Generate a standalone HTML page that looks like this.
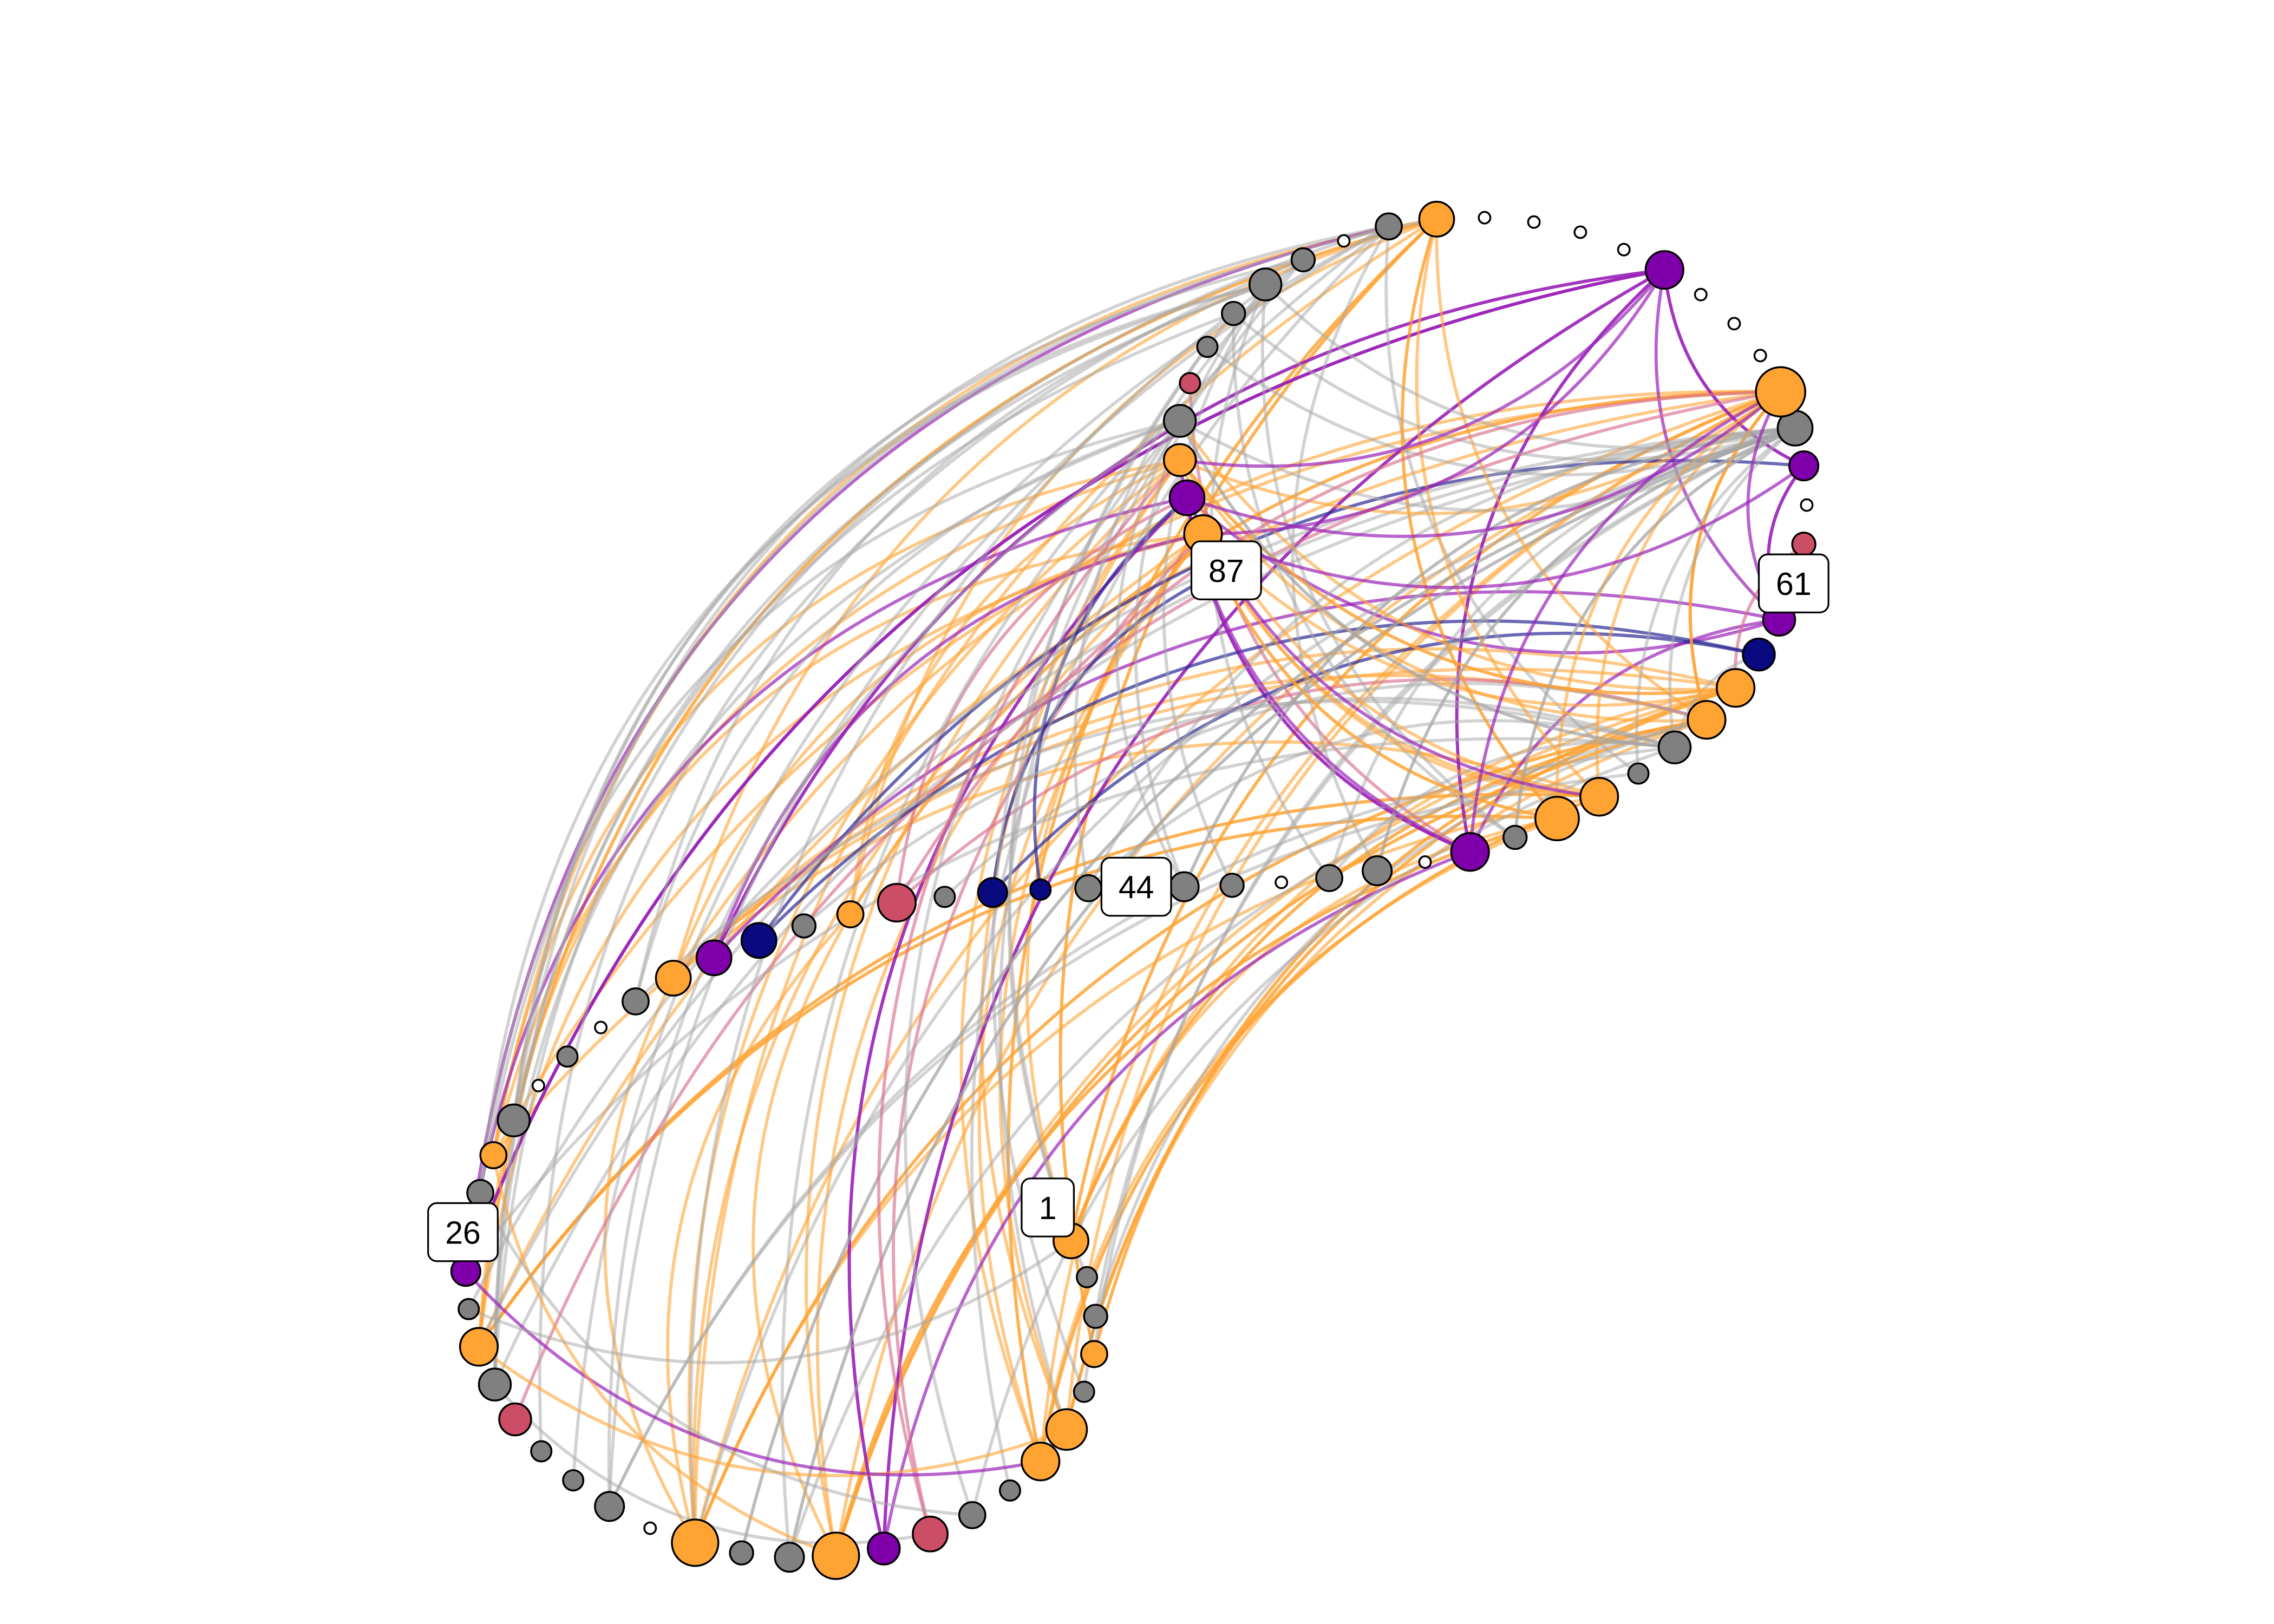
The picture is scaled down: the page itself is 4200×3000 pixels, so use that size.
<!DOCTYPE html>
<html><head><meta charset="utf-8"><style>
html,body{margin:0;padding:0;background:#fff;}
svg{display:block;}
</style></head><body>
<svg id="chart" width="4200" height="3000" viewBox="0 0 1567 1119" preserveAspectRatio="none" xmlns="http://www.w3.org/2000/svg">
<rect width="1567" height="1119" fill="#fff"/>
<g id="edges"></g>
<g id="nodes"></g>
<g id="labels"></g>
</svg>
<script>
const nodeX=[738,749,755,754,747,735,717,696,670,641,609,576,544,511,479,448,420,395,373,355,341,330,323,321,331,340,354,371,391,414,438,464,492,523,554,586,618,651,684,717,750,783,816,849,883,916,949,982,1013,1044,1073,1102,1129,1154,1176,1196,1212,1226,1236,1243,1245,1243,1237,1227,1213,1195,1172,1147,1119,1089,1057,1023,990,957,926,898,872,850,832,820,813,813,818,829,845];
const nodeY=[855,880,907,933,959,985,1007,1027,1044,1057,1067,1072,1073,1070,1063,1053,1038,1020,1000,978,954,928,902,876,822,796,772,748,728,708,690,674,660,648,638,630,622,618,615,613,612,611,611,610,608,605,600,594,587,577,564,549,533,515,496,474,451,427,402,375,348,321,295,270,245,223,203,186,172,160,153,150,151,156,166,179,196,216,239,264,290,317,343,368,392];
const nodeR=[12,7,8,9,7,14,13,7,9,12,11,16,10,8,16,4,10,7,7,11,11,13,7,10,9,9,11,4,7,4,9,12,12,12,8,9,13,7,10,7,9,9,10,8,4,9,10,4,13,8,15,13,7,11,13,13,11,11,9,8,4,10,12,17,4,4,4,13,4,4,4,4,12,9,4,8,11,8,7,7,11,11,12,13,9];
const nodeGroup="OGGOGOOGGRPOGGOWGGGRGOGPGOGWGWGOPNGORGNNGGGGWGGWPGOOGGOONPGRWPGOWWWPWWWWOGWGGGGRGOPOG";
const labelText=["1","26","44","61","87"];
const labelPos=[[722,832],[319,849],[783,611],[1236,402],[845,393]];
const edgeFrom=[5,5,5,6,6,6,11,11,11,11,14,14,14,14,21,21,21,0,0,0,3,3,25,25,31,31,35,35,50,50,51,51,54,54,55,55,63,63,63,63,72,72,72,81,81,83,83,83,11,14,6,5,21,0,31,35,50,51,54,55,63,72,11,14,5,6,3,0,21,25,
 10,10,32,32,48,48,48,57,57,61,61,67,67,67,67,67,82,82,82,23,23,48,67,57,
 9,19,36,36,79,59,
 33,38,39,56,33,
 23,24,26,24,26,20,16,12,8,4,2,40,42,46,53,62,73,76,75,80,77,49,45,52,62,16,20,12,13,40,42,43,45,46,49,52,53,62,73,75,76,77,80,78,1,7,13,17,18,22,30,34,37,53,62,73,80,
 50,51,54,55,50,51,54,55,63,63,63,83,83,81,81,72,72,40,42,45,46,49,52,53,62,62,62,80,80,76,77,78,48,48,67,67,57,61,82,82,36,9,
 21,23,25,20,24,22];
const edgeTo=[54,55,83,63,72,51,81,63,50,55,83,72,54,35,63,51,81,54,63,83,55,72,81,72,63,55,63,81,11,0,21,6,14,31,5,3,25,35,0,54,21,31,50,14,6,11,21,51,54,51,50,63,72,54,83,72,21,31,11,25,14,6,35,31,81,83,72,55,50,83,
 82,67,67,83,67,82,57,67,61,67,57,23,32,48,10,61,48,10,57,67,82,10,23,32,
 83,63,82,54,48,55,
 56,84,82,38,61,
 73,76,75,72,76,62,73,62,53,62,54,75,76,62,23,21,12,20,5,8,0,62,76,16,14,53,80,54,62,53,62,76,53,73,77,73,56,12,26,14,30,20,24,4,80,73,62,73,75,62,80,53,54,30,3,20,16,
 83,81,72,81,63,84,63,80,81,51,54,55,50,54,55,50,51,62,80,62,62,76,62,80,53,42,49,62,53,62,62,62,63,81,83,81,63,83,63,51,63,81,
 5,6,11,9,8,0];
const groupColor={O:"#ffa333",G:"#808080",P:"#7f00aa",R:"#cc4d66",N:"#0a0a80",W:"#ffffff"};
const edgeColor={O:"#ffa333",G:"#a6a6a6",P:"#9a22b8",R:"#d9708c",N:"#2a2a96",W:"#bbbbbb"};
const edgeOpacity={O:0.6,G:0.5,P:0.7,R:0.65,N:0.7,W:0.4};
const NS="http://www.w3.org/2000/svg";
const CX=800,CY=620;
const eg=document.getElementById('edges'),ng=document.getElementById('nodes'),lg=document.getElementById('labels');
for(let k=0;k<edgeFrom.length;k++){
 const a=edgeFrom[k],b=edgeTo[k];
 const x1=nodeX[a],y1=nodeY[a],x2=nodeX[b],y2=nodeY[b];
 const mx=(x1+x2)/2,my=(y1+y2)/2,dx=x2-x1,dy=y2-y1;
 let px,py;
 const lo=Math.min(a,b),hi=Math.max(a,b);
 if(lo>=18&&lo<=28&&hi>=70){
   px=-dy*0.35;py=dx*0.35;
   if(px*(mx-CX)+py*(my-CY)<0){px=-px;py=-py;}
 } else {
   const s=(a<b)?-0.28:0.28;
   px=-dy*s;py=dx*s;
 }
 const p=document.createElementNS(NS,'path');
 p.setAttribute('d',`M${x1},${y1} Q${mx+px},${my+py} ${x2},${y2}`);
 const g=nodeGroup[a];
 p.setAttribute('fill','none');p.setAttribute('stroke',edgeColor[g]);
 p.setAttribute('stroke-opacity',edgeOpacity[g]);p.setAttribute('stroke-width','2.2');
 
 
 eg.appendChild(p);
}
for(let i=0;i<nodeX.length;i++){
 const c=document.createElementNS(NS,'circle');
 c.setAttribute('cx',nodeX[i]);c.setAttribute('cy',nodeY[i]);c.setAttribute('r',nodeR[i]);
 c.setAttribute('fill',groupColor[nodeGroup[i]]);c.setAttribute('stroke','#000');c.setAttribute('stroke-width','1.3');
 
 
 ng.appendChild(c);
}
for(let j=0;j<labelText.length;j++){
 const [x,y]=labelPos[j];const t=labelText[j];const w=t.length>1?48:36;
 const r=document.createElementNS(NS,'rect');
 r.setAttribute('x',x-w/2);r.setAttribute('y',y-20);r.setAttribute('width',w);r.setAttribute('height',40);
 r.setAttribute('rx',6);r.setAttribute('fill','#fff');r.setAttribute('stroke','#000');r.setAttribute('stroke-width','1.2');
 
 
 lg.appendChild(r);
 const tx=document.createElementNS(NS,'text');
 tx.setAttribute('x',x);tx.setAttribute('y',y+8);tx.setAttribute('text-anchor','middle');
 tx.setAttribute('font-family','Liberation Sans, Arial, sans-serif');tx.setAttribute('font-size','22');
 tx.textContent=t;
 
 
 lg.appendChild(tx);
}
</script>
</body></html>
